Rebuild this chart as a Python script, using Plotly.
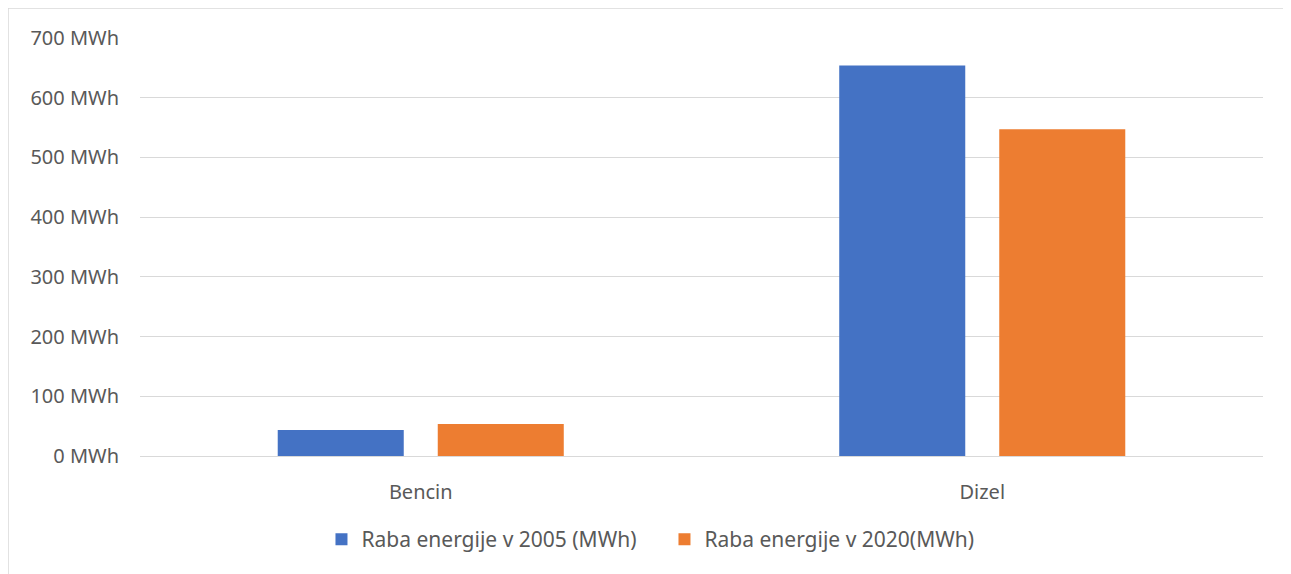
import plotly.graph_objects as go

categories = ["Bencin", "Dizel"]
raba_2005 = [43.5, 654]
raba_2020 = [53.6, 547]
series_names = ["Raba energije v 2005 (MWh)", "Raba energije v 2020(MWh)"]

blue = "#4472C4"
orange = "#ED7D31"
text_color = "#595959"
grid_color = "#D9D9D9"

fig = go.Figure()
fig.add_trace(go.Bar(x=categories, y=raba_2005, name=series_names[0],
                     marker=dict(color=blue, line=dict(width=0))))
fig.add_trace(go.Bar(x=categories, y=raba_2020, name=series_names[1],
                     marker=dict(color=orange, line=dict(width=0))))

# page puts the figure at (8, 8), so size/margins are shifted to match
fig.update_layout(
    width=1283, height=566,
    margin=dict(l=132, r=28, t=30, b=118),
    paper_bgcolor="white", plot_bgcolor="white",
    font=dict(family="Noto Sans, Open Sans, sans-serif", size=20, color=text_color),
    barmode="group", bargap=0.43, bargroupgap=0.2125,
    legend=dict(orientation="h", x=0.1616, xanchor="left", y=-0.2, yanchor="middle",
                font=dict(size=21, color=text_color), itemwidth=30,
                entrywidth=298, traceorder="normal"),
    showlegend=True,
)
fig.update_yaxes(range=[0, 700], dtick=100, ticksuffix=" MWh",
                 tickfont=dict(size=20),
                 showgrid=True, gridcolor=grid_color, gridwidth=1,
                 zeroline=True, zerolinecolor=grid_color, zerolinewidth=1,
                 showline=False, ticks="", ticklabelstandoff=20)
fig.update_xaxes(showgrid=False, showline=False, ticks="", ticklabelstandoff=22,
                 tickfont=dict(size=20))

# light frame on the figure edge like the source
fig.add_shape(type="line", xref="paper", yref="paper",
              x0=-132 / 1123, x1=1.1, y0=1 + 30 / 418, y1=1 + 30 / 418,
              line=dict(color=grid_color, width=1.5))
fig.add_shape(type="line", xref="paper", yref="paper",
              x0=-132 / 1123, x1=-132 / 1123, y0=1 + 30 / 418, y1=-0.3,
              line=dict(color=grid_color, width=1.5))

fig.write_html("out.html")
